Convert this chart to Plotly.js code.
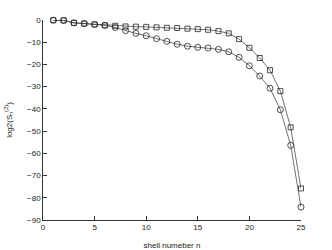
<!DOCTYPE html>
<html><head><meta charset="utf-8">
<script src="https://cdn.plot.ly/plotly-3.0.1.min.js"></script>
<style>html,body{margin:0;padding:0;background:#fff;}#chart{width:332px;height:250px;}</style>
</head><body><div id="chart"></div>
<script>
const shells = [1,2,3,4,5,6,7,8,9,10,11,12,13,14,15,16,17,18,19,20,21,22,23,24,25];
const squareSeries = [-0.1,-0.2,-1.3,-1.6,-2.0,-2.4,-2.6,-2.9,-3.0,-3.1,-3.3,-3.5,-3.6,-3.9,-4.1,-4.4,-5.0,-6.0,-8.6,-12.5,-17.1,-22.6,-32.0,-48.3,-75.8];
const circleSeries = [-0.1,-0.2,-1.3,-1.6,-2.0,-2.4,-3.4,-4.8,-6.0,-7.1,-8.4,-9.6,-10.9,-11.8,-12.3,-12.6,-13.2,-14.3,-16.8,-20.6,-25.2,-30.7,-40.4,-56.4,-84.2];
const xTicks = [0,5,10,15,20,25];
const yTicks = [-90,-80,-70,-60,-50,-40,-30,-20,-10,0];
const yTickText = yTicks.map(v => v < 0 ? '\u2212' + Math.abs(v) : String(v));

const lineStyle = {color:'#333', width:0.7};
const traces = [
  {x: shells, y: squareSeries, mode:'lines+markers', type:'scatter', cliponaxis:false,
   line: lineStyle, marker:{symbol:'square-open', size:5, color:'#222', line:{width:0.8}}},
  {x: shells, y: circleSeries, mode:'lines+markers', type:'scatter', cliponaxis:false,
   line: lineStyle, marker:{symbol:'circle-open', size:6, color:'#222', line:{width:0.8}}}
];
const fontFam = 'Liberation Sans, Arial, sans-serif';
const axisCommon = {showgrid:false, zeroline:false, showline:true, linecolor:'#000', linewidth:0.8,
  ticks:'inside', ticklen:4, tickcolor:'#000', tickwidth:0.8, mirror:false,
  tickfont:{family:fontFam, size:8, color:'#222'}};
const layout = {
  width:332, height:250, showlegend:false,
  margin:{l:43, r:31, t:20, b:30, pad:0},
  paper_bgcolor:'#fff', plot_bgcolor:'#fff',
  xaxis: Object.assign({}, axisCommon, {range:[0,25], tickvals:xTicks, ticktext:xTicks.map(String),
    automargin:false,
    title:{text:'shell numeber n', font:{family:fontFam, size:8, color:'#222'}, standoff:10}}),
  yaxis: Object.assign({}, axisCommon, {range:[-90,0], tickvals:yTicks, ticktext:yTickText,
    automargin:false,
    title:{text:'log2(S<sub>n</sub><sup>(2)</sup>)', font:{family:fontFam, size:8, color:'#222'}, standoff:13}})
};
Plotly.newPlot('chart', traces, layout, {staticPlot:true, displayModeBar:false});
</script></body></html>
